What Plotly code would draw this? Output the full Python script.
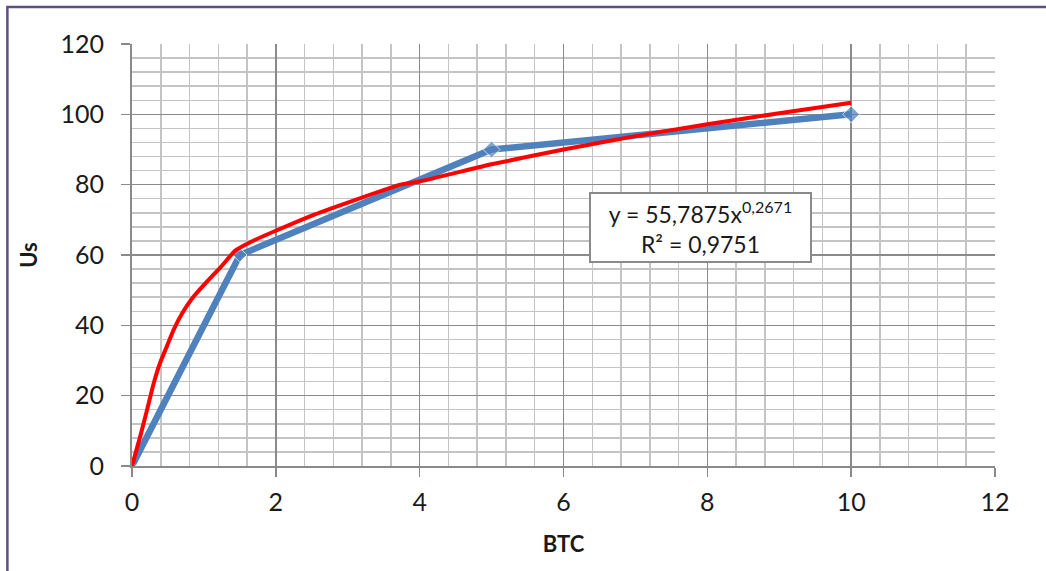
import plotly.graph_objects as go

# Measured data (blue series)
btc = [0, 1.5, 5, 10]
us = [0, 60, 90, 100]

# Trendline (red)
trend_x = [0, 0.115, 0.21, 0.30, 0.39, 0.49, 0.58, 0.70, 0.83, 1.0, 1.23, 1.44, 1.7, 2.0, 2.5, 3.0, 3.73, 4.0, 5.0, 6.0, 7.0, 8.0, 9.0, 10.0]
trend_y = [0, 8.5, 16.0, 23.4, 29.3, 34.3, 38.8, 43.5, 47.5, 51.5, 56.5, 61.3, 64.2, 66.9, 71.2, 74.9, 80.0, 80.9, 85.8, 90.0, 93.8, 97.2, 100.3, 103.3]

x_ticks = [0, 2, 4, 6, 8, 10, 12]
y_ticks = [0, 20, 40, 60, 80, 100, 120]

eq_text = "y = 55,7875x<sup>0,2671</sup><br>R² = 0,9751"

FONT = "Lato"
MAJOR = "#8a8a8a"
MINOR = "#c4c4c4"
TXT = "#1a1a1a"

fig = go.Figure()
fig.add_trace(go.Scatter(
    x=btc, y=us, mode="lines+markers",
    line=dict(color="#4f81bd", width=6.5),
    marker=dict(symbol="diamond", size=[6, 11, 13, 13], color="#4f81bd"),
    showlegend=False, cliponaxis=False, hoverinfo="skip",
))
fig.add_trace(go.Scatter(
    x=trend_x, y=trend_y, mode="lines",
    line=dict(color="#ff0000", width=4, shape="spline", smoothing=0.4),
    showlegend=False, cliponaxis=False, hoverinfo="skip",
))

fig.update_layout(
    width=1046, height=571,
    margin=dict(l=132, r=51, t=44, b=104.5),
    paper_bgcolor="white", plot_bgcolor="white",
    font=dict(family=FONT, color=TXT),
    hovermode=False,
    xaxis=dict(
        range=[0, 12], tickvals=x_ticks, ticktext=[str(v) for v in x_ticks],
        showgrid=True, gridcolor=MAJOR, gridwidth=1.5,
        minor=dict(tick0=0, dtick=0.4, showgrid=True, gridcolor=MINOR, gridwidth=1.5, ticks=""),
        showline=True, linecolor=MAJOR, linewidth=2,
        ticks="outside", ticklen=9, tickwidth=1.5, tickcolor=MAJOR,
        tickfont=dict(size=25, family=FONT, color=TXT),
        ticklabelstandoff=4,
        title=dict(text="<b>BTC</b>", font=dict(size=22, family=FONT, color=TXT), standoff=22),
        zeroline=False, fixedrange=True,
    ),
    yaxis=dict(
        range=[0, 120], tickvals=y_ticks, ticktext=[str(v) for v in y_ticks],
        showgrid=True, gridcolor=MAJOR, gridwidth=1.5,
        minor=dict(tick0=0, dtick=4, showgrid=True, gridcolor=MINOR, gridwidth=1.5, ticks=""),
        showline=True, linecolor=MAJOR, linewidth=2,
        ticks="outside", ticklen=9, tickwidth=1.5, tickcolor=MAJOR,
        tickfont=dict(size=25, family=FONT, color=TXT),
        ticklabelstandoff=12,
        title=dict(text="<b>Us</b>", font=dict(size=22, family=FONT, color=TXT), standoff=17),
        zeroline=False, fixedrange=True,
    ),
    annotations=[dict(
        x=7.9, y=67.9, xref="x", yref="y", text=eq_text, showarrow=False,
        xanchor="center", yanchor="middle", align="center",
        font=dict(size=23, family=FONT, color=TXT),
        bgcolor="white", bordercolor="#8a8a8a", borderwidth=2, borderpad=2,
        width=215, height=63,
    )],
    shapes=[dict(
        type="rect", xref="paper", yref="paper",
        x0=-0.1444, x1=1.3, y0=-0.5, y1=1.0876,
        line=dict(color="#5f4f80", width=2.5), fillcolor="rgba(0,0,0,0)", layer="above",
    )],
)

fig.write_html(
    "out.html",
    config={"displayModeBar": False, "staticPlot": True},
    post_script="document.body.style.margin='0';document.body.style.overflow='hidden';",
)
